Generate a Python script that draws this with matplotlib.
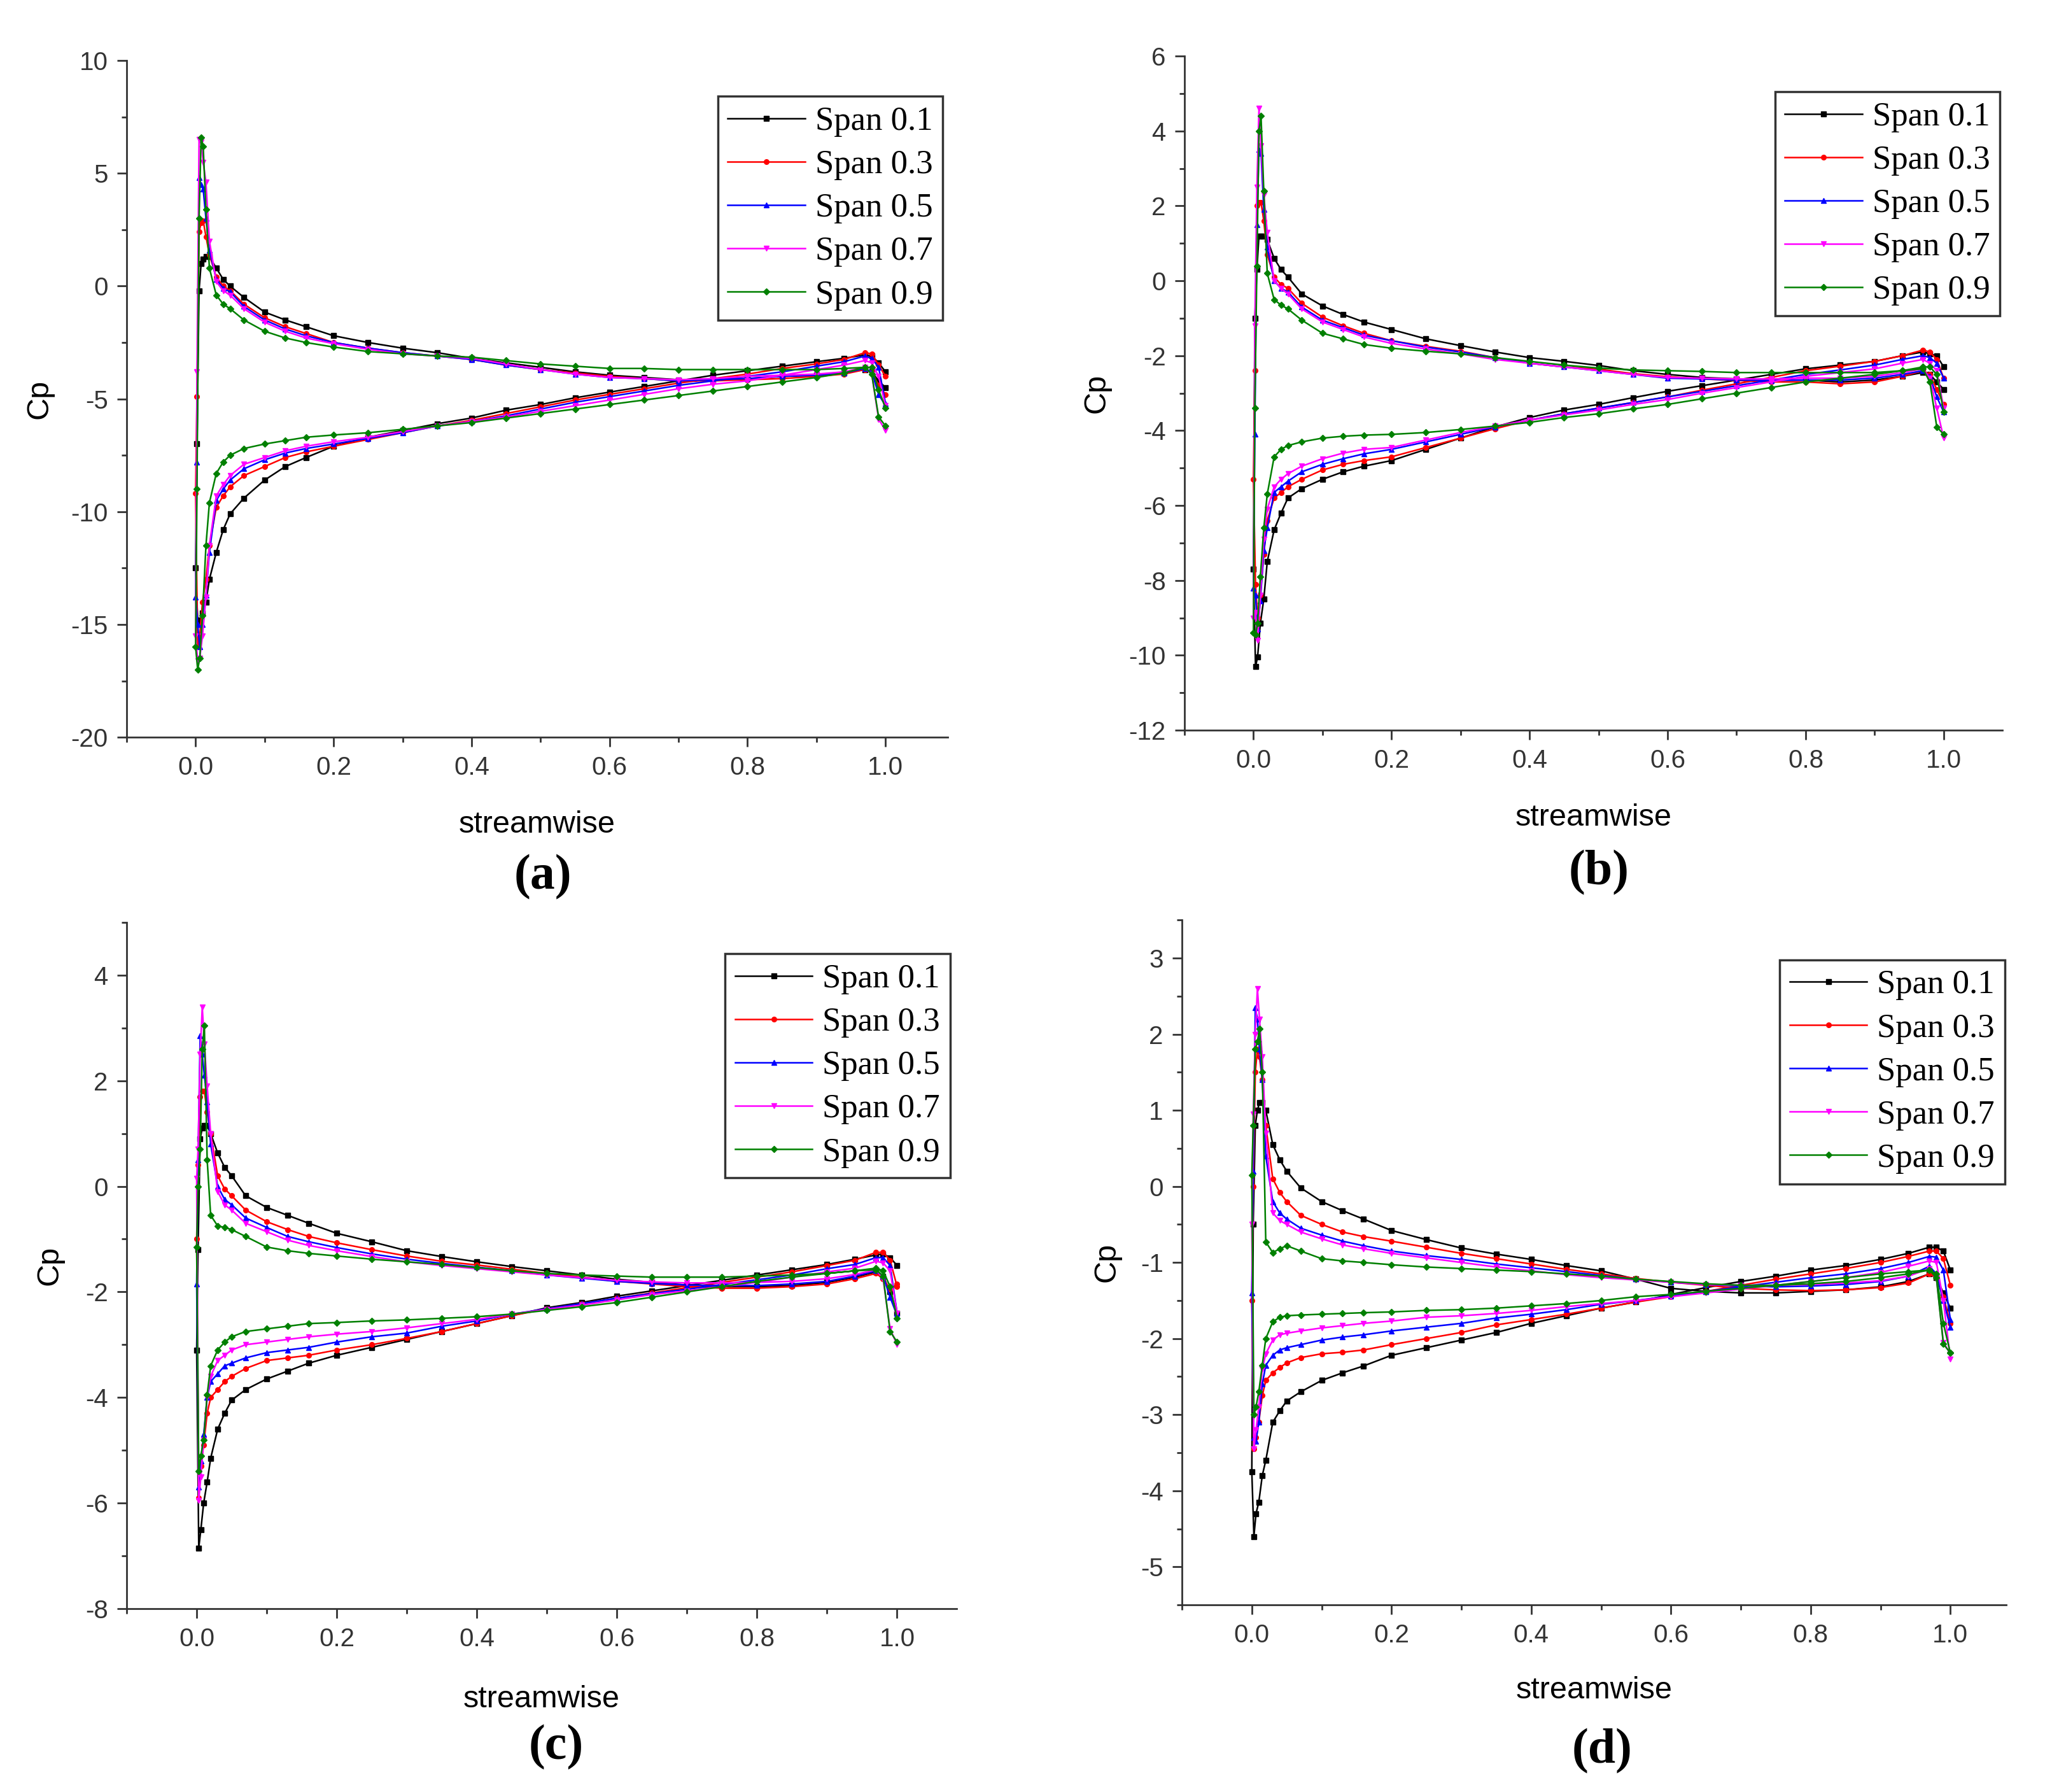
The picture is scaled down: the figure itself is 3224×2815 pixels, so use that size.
import matplotlib.pyplot as plt
from matplotlib.ticker import MultipleLocator

plt.rcParams['font.family'] = 'Liberation Sans'
plt.rcParams['axes.unicode_minus'] = False

# streamwise stations: upper branch (from LE) and lower branch (from LE)
x_upper = [0.0, 0.002, 0.005, 0.008, 0.011, 0.015, 0.02, 0.03, 0.04, 0.05, 0.07,
           0.1, 0.13, 0.16, 0.2, 0.25, 0.3, 0.35, 0.4, 0.45, 0.5, 0.55, 0.6, 0.65,
           0.7, 0.75, 0.8, 0.85, 0.9, 0.94, 0.97, 0.98, 0.99, 1.0]
x_lower = [0.003, 0.006, 0.01, 0.015, 0.02, 0.03, 0.04, 0.05, 0.07, 0.1, 0.13,
           0.16, 0.2, 0.25, 0.3, 0.35, 0.4, 0.45, 0.5, 0.55, 0.6, 0.65, 0.7, 0.75,
           0.8, 0.85, 0.9, 0.94, 0.97, 0.98, 0.99, 1.0]

span_labels = ['Span 0.1', 'Span 0.3', 'Span 0.5', 'Span 0.7', 'Span 0.9']

# ---- panel (a) ----
a_up_01 = [-12.5, -7.0, -0.2, 1.0, 1.2, 1.3, 1.3, 0.8, 0.3, 0.0, -0.5, -1.15, -1.5, -1.8, -2.2, -2.5, -2.75,
           -2.95, -3.2, -3.4, -3.6, -3.8, -3.95, -4.05, -4.15, -4.15, -4.1, -4.0, -3.95, -3.85, -3.7, -3.8, -4.2, -4.5]
a_up_03 = [-9.2, -4.9, 2.4, 2.8, 2.9, 2.2, 1.4, 0.4, 0.0, -0.2, -0.8, -1.4, -1.8, -2.1, -2.5, -2.75, -2.95,
           -3.1, -3.25, -3.5, -3.7, -3.85, -4.0, -4.1, -4.2, -4.2, -4.15, -4.1, -4.0, -3.9, -3.7, -3.8, -4.4, -4.8]
a_up_05 = [-13.8, -7.8, 4.8, 4.5, 4.3, 3.0, 1.6, 0.3, -0.1, -0.25, -0.9, -1.5, -1.9, -2.2, -2.5, -2.75, -2.95,
           -3.1, -3.25, -3.5, -3.7, -3.9, -4.05, -4.1, -4.2, -4.15, -4.1, -4.0, -3.95, -3.85, -3.65, -3.8, -4.8, -5.3]
a_up_07 = [-15.5, -3.8, 6.5, 6.4, 5.5, 4.6, 2.0, 0.2, -0.2, -0.4, -1.0, -1.6, -2.0, -2.3, -2.55, -2.8, -3.0,
           -3.1, -3.2, -3.45, -3.7, -3.9, -4.05, -4.1, -4.15, -4.1, -4.0, -3.95, -3.9, -3.8, -3.6, -3.9, -5.9, -6.4]
a_up_09 = [-16.0, -9.0, 3.0, 6.6, 6.2, 3.4, 0.8, -0.4, -0.8, -1.0, -1.5, -2.0, -2.3, -2.5, -2.7, -2.9, -3.0,
           -3.1, -3.15, -3.3, -3.45, -3.55, -3.65, -3.65, -3.7, -3.7, -3.7, -3.7, -3.7, -3.65, -3.6, -3.9, -5.8, -6.2]
a_lo_01 = [-14.8, -15.0, -14.5, -14.0, -13.0, -11.8, -10.8, -10.1, -9.4, -8.6, -8.0, -7.6, -7.1, -6.7, -6.4, -6.1,
           -5.85, -5.5, -5.25, -4.95, -4.7, -4.45, -4.2, -3.95, -3.75, -3.55, -3.35, -3.2, -3.05, -3.1, -3.4, -3.8]
a_lo_03 = [-16.0, -15.5, -14.0, -13.0, -11.5, -9.8, -9.3, -8.9, -8.4, -8.0, -7.6, -7.35, -7.1, -6.8, -6.5, -6.2,
           -5.95, -5.65, -5.35, -5.05, -4.8, -4.55, -4.3, -4.1, -3.9, -3.65, -3.45, -3.25, -2.95, -3.0, -3.5, -4.0]
a_lo_05 = [-15.0, -16.0, -15.0, -13.7, -11.8, -9.5, -9.0, -8.6, -8.1, -7.7, -7.4, -7.2, -7.0, -6.75, -6.5, -6.2,
           -6.0, -5.75, -5.45, -5.15, -4.9, -4.65, -4.4, -4.2, -4.0, -3.8, -3.55, -3.35, -3.1, -3.2, -3.6, -5.2]
a_lo_07 = [-16.6, -16.5, -15.5, -13.8, -11.5, -9.3, -8.8, -8.4, -7.9, -7.6, -7.3, -7.1, -6.9, -6.7, -6.45, -6.2,
           -6.0, -5.8, -5.55, -5.3, -5.05, -4.8, -4.55, -4.35, -4.2, -3.95, -3.7, -3.5, -3.3, -3.4, -4.0, -5.3]
a_lo_09 = [-17.0, -16.5, -14.6, -11.5, -9.6, -8.3, -7.8, -7.5, -7.2, -7.0, -6.85, -6.7, -6.6, -6.5, -6.35, -6.2,
           -6.05, -5.85, -5.65, -5.45, -5.25, -5.05, -4.85, -4.65, -4.45, -4.25, -4.05, -3.85, -3.6, -3.6, -4.6, -5.4]

# ---- panel (b) ----
b_up_01 = [-7.7, -1.0, 0.3, 1.2, 1.2, 1.2, 1.1, 0.6, 0.3, 0.1, -0.35, -0.67, -0.9, -1.1, -1.3, -1.55, -1.73,
           -1.9, -2.05, -2.15, -2.26, -2.4, -2.5, -2.58, -2.62, -2.65, -2.65, -2.7, -2.65, -2.55, -2.45, -2.5, -2.7, -2.9]
b_up_03 = [-5.3, -2.4, 2.0, 2.1, 2.1, 1.6, 0.7, 0.1, -0.1, -0.2, -0.6, -0.97, -1.2, -1.4, -1.6, -1.75, -1.88,
           -2.05, -2.2, -2.3, -2.36, -2.48, -2.56, -2.62, -2.66, -2.7, -2.7, -2.75, -2.7, -2.55, -2.4, -2.5, -2.9, -3.3]
b_up_05 = [-8.2, -4.1, 1.5, 3.5, 3.4, 1.9, 0.9, 0.0, -0.2, -0.3, -0.7, -1.05, -1.25, -1.45, -1.6, -1.77, -1.9,
           -2.05, -2.2, -2.3, -2.4, -2.5, -2.6, -2.62, -2.65, -2.66, -2.65, -2.65, -2.6, -2.5, -2.4, -2.55, -3.1, -3.5]
b_up_07 = [-9.0, -1.2, 2.5, 4.6, 3.6, 2.3, 1.3, 0.0, -0.2, -0.35, -0.75, -1.1, -1.3, -1.5, -1.67, -1.82, -1.95,
           -2.1, -2.2, -2.3, -2.4, -2.5, -2.58, -2.6, -2.62, -2.62, -2.6, -2.6, -2.55, -2.45, -2.35, -2.6, -3.4, -4.2]
b_up_09 = [-9.4, -3.4, 0.4, 4.0, 4.4, 2.4, 0.2, -0.5, -0.65, -0.75, -1.05, -1.4, -1.55, -1.7, -1.8, -1.88, -1.95,
           -2.05, -2.15, -2.25, -2.33, -2.38, -2.4, -2.42, -2.45, -2.45, -2.45, -2.45, -2.45, -2.4, -2.35, -2.7, -3.9, -4.1]
b_lo_01 = [-10.3, -10.05, -9.15, -8.5, -7.5, -6.65, -6.2, -5.8, -5.55, -5.3, -5.1, -4.95, -4.8, -4.5, -4.2, -3.9,
           -3.65, -3.45, -3.3, -3.12, -2.95, -2.8, -2.65, -2.5, -2.35, -2.25, -2.15, -2.0, -1.9, -1.95, -2.0, -2.3]
b_lo_03 = [-8.1, -9.0, -8.4, -7.3, -6.4, -5.8, -5.65, -5.5, -5.3, -5.05, -4.9, -4.8, -4.7, -4.45, -4.2, -3.95,
           -3.72, -3.55, -3.4, -3.25, -3.1, -2.92, -2.75, -2.58, -2.4, -2.28, -2.15, -2.0, -1.85, -1.9, -2.1, -2.6]
b_lo_05 = [-8.4, -9.3, -8.55, -7.2, -6.6, -5.65, -5.5, -5.35, -5.1, -4.9, -4.75, -4.62, -4.5, -4.3, -4.1, -3.9,
           -3.72, -3.55, -3.4, -3.25, -3.1, -2.95, -2.8, -2.65, -2.5, -2.38, -2.25, -2.1, -2.0, -2.05, -2.2, -2.6]
b_lo_07 = [-8.85, -9.6, -8.4, -6.9, -6.1, -5.5, -5.3, -5.15, -4.95, -4.75, -4.6, -4.5, -4.45, -4.25, -4.05, -3.88,
           -3.72, -3.58, -3.45, -3.3, -3.17, -3.0, -2.85, -2.7, -2.55, -2.45, -2.35, -2.2, -2.1, -2.2, -2.4, -3.4]
b_lo_09 = [-9.45, -9.15, -7.9, -6.6, -5.7, -4.7, -4.5, -4.4, -4.3, -4.2, -4.15, -4.12, -4.1, -4.05, -3.97, -3.88,
           -3.78, -3.65, -3.55, -3.42, -3.3, -3.15, -3.0, -2.85, -2.7, -2.6, -2.5, -2.4, -2.3, -2.3, -2.5, -3.5]

# ---- panel (c) ----
c_up_01 = [-3.1, -1.2, 0.9, 1.1, 1.15, 1.15, 1.0, 0.63, 0.36, 0.2, -0.18, -0.4, -0.55, -0.7, -0.89, -1.05, -1.22,
           -1.33, -1.43, -1.52, -1.6, -1.68, -1.76, -1.82, -1.87, -1.9, -1.9, -1.88, -1.82, -1.72, -1.62, -1.7, -2.0, -2.4]
c_up_03 = [-1.0, 0.4, 1.7, 1.8, 1.8, 1.4, 1.0, 0.2, -0.05, -0.18, -0.45, -0.67, -0.82, -0.95, -1.07, -1.2, -1.32,
           -1.42, -1.49, -1.57, -1.65, -1.72, -1.8, -1.85, -1.9, -1.93, -1.93, -1.9, -1.85, -1.75, -1.65, -1.75, -1.95, -1.85]
c_up_05 = [-1.85, 0.5, 2.85, 2.5, 2.1, 1.6, 0.8, 0.0, -0.25, -0.35, -0.6, -0.78, -0.95, -1.05, -1.16, -1.28, -1.38,
           -1.46, -1.53, -1.6, -1.68, -1.74, -1.8, -1.84, -1.87, -1.88, -1.88, -1.85, -1.8, -1.7, -1.6, -1.7, -2.1, -2.45]
c_up_07 = [0.15, 0.7, 2.5, 3.4, 2.7, 1.9, 1.0, -0.1, -0.35, -0.45, -0.7, -0.86, -1.02, -1.12, -1.22, -1.33, -1.43,
           -1.5, -1.56, -1.62, -1.68, -1.73, -1.78, -1.81, -1.83, -1.83, -1.82, -1.8, -1.75, -1.67, -1.58, -1.75, -2.7, -3.0]
c_up_09 = [-1.15, 0.0, 0.7, 2.6, 3.05, 0.5, -0.55, -0.75, -0.78, -0.82, -0.95, -1.15, -1.22, -1.27, -1.32, -1.38, -1.43,
           -1.48, -1.54, -1.6, -1.65, -1.68, -1.7, -1.72, -1.72, -1.72, -1.7, -1.68, -1.65, -1.6, -1.58, -1.7, -2.75, -2.95]
c_lo_01 = [-6.85, -6.5, -6.0, -5.6, -5.15, -4.6, -4.3, -4.05, -3.85, -3.65, -3.5, -3.35, -3.2, -3.05, -2.9, -2.75,
           -2.6, -2.45, -2.3, -2.2, -2.08, -1.98, -1.88, -1.78, -1.68, -1.58, -1.48, -1.38, -1.3, -1.28, -1.35, -1.5]
c_lo_03 = [-5.9, -5.3, -4.9, -4.3, -4.0, -3.85, -3.7, -3.6, -3.45, -3.3, -3.25, -3.2, -3.1, -3.0, -2.88, -2.75,
           -2.6, -2.45, -2.32, -2.22, -2.12, -2.02, -1.92, -1.82, -1.72, -1.62, -1.5, -1.4, -1.25, -1.25, -1.4, -1.9]
c_lo_05 = [-5.7, -5.2, -4.7, -4.0, -3.7, -3.55, -3.4, -3.35, -3.25, -3.15, -3.1, -3.05, -2.95, -2.85, -2.78, -2.65,
           -2.55, -2.42, -2.32, -2.22, -2.12, -2.03, -1.95, -1.86, -1.77, -1.68, -1.56, -1.48, -1.35, -1.35, -1.5, -2.4]
c_lo_07 = [-5.95, -5.5, -4.8, -4.0, -3.6, -3.3, -3.2, -3.1, -3.0, -2.95, -2.9, -2.85, -2.8, -2.75, -2.68, -2.6,
           -2.52, -2.42, -2.33, -2.25, -2.15, -2.05, -1.98, -1.9, -1.82, -1.72, -1.62, -1.55, -1.42, -1.45, -1.6, -2.4]
c_lo_09 = [-5.4, -5.1, -4.8, -3.95, -3.4, -3.1, -2.95, -2.85, -2.75, -2.7, -2.65, -2.6, -2.58, -2.55, -2.53, -2.5,
           -2.47, -2.42, -2.35, -2.28, -2.2, -2.1, -2.0, -1.9, -1.8, -1.72, -1.65, -1.6, -1.55, -1.6, -1.9, -2.5]

# ---- panel (d) ----
d_up_01 = [-3.75, -0.5, 0.8, 1.0, 1.1, 1.1, 1.0, 0.55, 0.35, 0.2, -0.02, -0.2, -0.32, -0.43, -0.58, -0.7, -0.81,
           -0.89, -0.96, -1.04, -1.11, -1.22, -1.34, -1.38, -1.4, -1.4, -1.38, -1.36, -1.32, -1.25, -1.15, -1.2, -1.4, -1.6]
d_up_03 = [-1.5, 0.0, 1.5, 1.8, 1.7, 1.4, 0.8, 0.1, -0.08, -0.2, -0.38, -0.5, -0.6, -0.66, -0.72, -0.8, -0.88,
           -0.95, -1.02, -1.09, -1.15, -1.21, -1.26, -1.3, -1.34, -1.36, -1.37, -1.36, -1.33, -1.27, -1.15, -1.2, -1.45, -1.8]
d_up_05 = [-1.4, 0.2, 2.35, 2.2, 1.8, 1.4, 0.4, -0.2, -0.35, -0.43, -0.55, -0.64, -0.72, -0.78, -0.85, -0.91, -0.96,
           -1.02, -1.07, -1.12, -1.17, -1.22, -1.26, -1.29, -1.31, -1.32, -1.31, -1.29, -1.25, -1.18, -1.05, -1.15, -1.5, -1.85]
d_up_07 = [-0.5, 0.95, 2.0, 2.6, 2.2, 1.7, 0.7, -0.35, -0.45, -0.5, -0.6, -0.69, -0.77, -0.82, -0.88, -0.94, -1.0,
           -1.06, -1.11, -1.16, -1.2, -1.23, -1.26, -1.29, -1.3, -1.3, -1.29, -1.27, -1.24, -1.18, -1.08, -1.2, -2.05, -2.2]
d_up_09 = [0.15, 0.8, 1.8, 1.9, 2.07, 1.5, -0.73, -0.87, -0.82, -0.78, -0.85, -0.95, -0.98, -1.0, -1.03, -1.06, -1.08,
           -1.1, -1.12, -1.15, -1.18, -1.22, -1.25, -1.28, -1.3, -1.3, -1.28, -1.25, -1.2, -1.15, -1.1, -1.2, -2.07, -2.19]
d_lo_01 = [-4.6, -4.3, -4.15, -3.8, -3.6, -3.1, -2.95, -2.82, -2.7, -2.55, -2.45, -2.36, -2.22, -2.12, -2.02, -1.92,
           -1.8, -1.7, -1.6, -1.52, -1.42, -1.33, -1.25, -1.18, -1.1, -1.04, -0.96, -0.88, -0.8, -0.8, -0.85, -1.1]
d_lo_03 = [-3.45, -3.3, -3.1, -2.75, -2.55, -2.45, -2.38, -2.32, -2.25, -2.2, -2.18, -2.15, -2.08, -2.0, -1.92, -1.82,
           -1.75, -1.68, -1.6, -1.52, -1.45, -1.38, -1.3, -1.22, -1.15, -1.08, -1.0, -0.92, -0.85, -0.85, -0.95, -1.3]
d_lo_05 = [-3.3, -3.35, -3.1, -2.6, -2.35, -2.22, -2.15, -2.12, -2.08, -2.02, -1.98, -1.95, -1.9, -1.85, -1.8, -1.73,
           -1.68, -1.62, -1.55, -1.5, -1.44, -1.38, -1.32, -1.26, -1.2, -1.15, -1.08, -1.0, -0.92, -0.93, -1.1, -1.75]
d_lo_07 = [-3.45, -3.2, -2.9, -2.4, -2.2, -2.02, -1.95, -1.93, -1.9, -1.86, -1.83, -1.8, -1.77, -1.72, -1.7, -1.67,
           -1.63, -1.58, -1.54, -1.5, -1.45, -1.4, -1.35, -1.3, -1.25, -1.2, -1.13, -1.05, -0.98, -1.0, -1.5, -2.27]
d_lo_09 = [-3.0, -2.9, -2.7, -2.35, -2.0, -1.78, -1.72, -1.7, -1.69, -1.68, -1.67, -1.66, -1.65, -1.63, -1.62, -1.6,
           -1.57, -1.54, -1.5, -1.45, -1.42, -1.38, -1.34, -1.3, -1.25, -1.2, -1.15, -1.12, -1.1, -1.15, -1.8, -2.19]

colors = ['#000000', '#ff0000', '#0000ff', '#ff00ff', '#008000']
markers = ['s', 'o', '^', 'v', 'D']

# panel settings: axes rect, xlim, ylim, y major/minor step, legend anchor, label coords, tag position
panels = [
    dict(up=[a_up_01, a_up_03, a_up_05, a_up_07, a_up_09], lo=[a_lo_01, a_lo_03, a_lo_05, a_lo_07, a_lo_09],
         rect=[0.0617, 0.5886, 0.4001, 0.3776], xlim=(-0.1, 1.09), ylim=(-20, 10), ystep=(5, 2.5),
         leg=(0.994, 0.947), xlab=-0.129, ylab=-0.106, tag='(a)', tagpos=(0.2646, 0.5105)),
    dict(up=[b_up_01, b_up_03, b_up_05, b_up_07, b_up_09], lo=[b_lo_01, b_lo_03, b_lo_05, b_lo_07, b_lo_09],
         rect=[0.5772, 0.5925, 0.3986, 0.3762], xlim=(-0.1, 1.085), ylim=(-12, 6), ystep=(2, 1),
         leg=(0.997, 0.947), xlab=-0.130, ylab=-0.107, tag='(b)', tagpos=(0.7792, 0.5130)),
    dict(up=[c_up_01, c_up_03, c_up_05, c_up_07, c_up_09], lo=[c_lo_01, c_lo_03, c_lo_05, c_lo_07, c_lo_09],
         rect=[0.0617, 0.1023, 0.4045, 0.3830], xlim=(-0.1, 1.085), ylim=(-8, 5), ystep=(2, 1),
         leg=(0.992, 0.954), xlab=-0.132, ylab=-0.093, tag='(c)', tagpos=(0.2711, 0.0249)),
    dict(up=[d_up_01, d_up_03, d_up_05, d_up_07, d_up_09], lo=[d_lo_01, d_lo_03, d_lo_05, d_lo_07, d_lo_09],
         rect=[0.5760, 0.1044, 0.4017, 0.3822], xlim=(-0.1, 1.08), ylim=(-5.5, 3.5), ystep=(1, 0.5),
         leg=(0.998, 0.942), xlab=-0.125, ylab=-0.091, tag='(d)', tagpos=(0.7807, 0.0227)),
]

fig = plt.figure(figsize=(32.24, 28.15), dpi=100)

for p in panels:
    ax = fig.add_axes(p['rect'])

    # each curve runs from the trailing edge along the lower branch, round the LE, then back along the upper branch
    for k in range(5):
        xs = x_lower[::-1] + x_upper
        ys = p['lo'][k][::-1] + p['up'][k]
        ax.plot(xs, ys, color=colors[k], marker=markers[k], markersize=5.5, linewidth=1.8,
                label=span_labels[k])

    ax.set_xlim(*p['xlim'])
    ax.set_ylim(*p['ylim'])

    # Origin-like axes: only left and bottom spines
    ax.spines['top'].set_visible(False)
    ax.spines['right'].set_visible(False)
    for s in ['left', 'bottom']:
        ax.spines[s].set_linewidth(2.0)
        ax.spines[s].set_color('#333333')

    ax.xaxis.set_major_locator(MultipleLocator(0.2))
    ax.xaxis.set_minor_locator(MultipleLocator(0.1))
    ax.yaxis.set_major_locator(MultipleLocator(p['ystep'][0]))
    ax.yaxis.set_minor_locator(MultipleLocator(p['ystep'][1]))
    ax.tick_params(which='major', direction='out', length=11, width=2, labelsize=29, pad=10,
                   color='#333333', labelcolor='#333333')
    ax.tick_params(which='minor', direction='out', length=6, width=2, color='#333333')

    ax.set_xlabel('streamwise', fontsize=35, va='center')
    ax.xaxis.set_label_coords(0.5, p['xlab'])
    ax.set_ylabel('Cp', fontsize=35, va='center')
    ax.yaxis.set_label_coords(p['ylab'], 0.5)

    leg = ax.legend(loc='upper right', bbox_to_anchor=p['leg'], borderaxespad=0,
                    prop={'family': 'Liberation Serif', 'size': 38}, fancybox=False,
                    edgecolor='#333333', framealpha=1, borderpad=0.3, labelspacing=0.38,
                    handlelength=2.3, handletextpad=0.3, numpoints=1)
    leg.get_frame().set_linewidth(2.5)

    fig.text(p['tagpos'][0], p['tagpos'][1], p['tag'], ha='center', va='center',
             family='Liberation Serif', fontweight='bold', fontsize=56)

fig.savefig('out.png', dpi=100)
